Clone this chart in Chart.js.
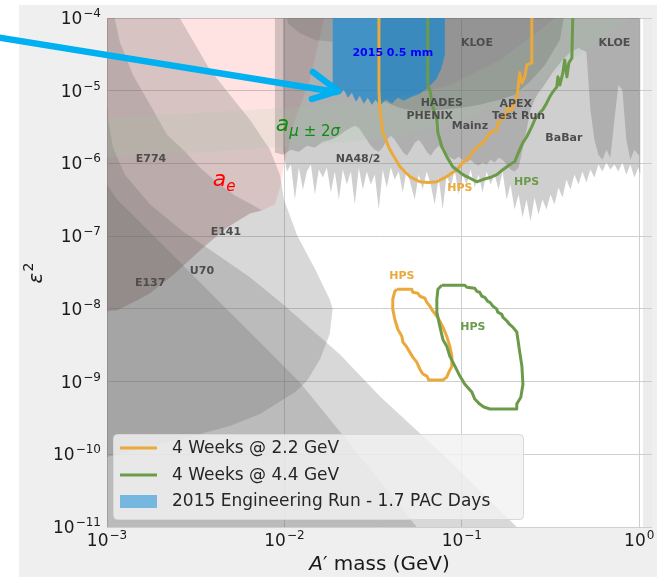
<!DOCTYPE html>
<html><head><meta charset="utf-8">
<script src="https://cdn.jsdelivr.net/npm/chart.js@4/dist/chart.umd.min.js"></script>
<style>html,body{margin:0;padding:0;background:#fff}canvas{display:block}</style>
</head><body>
<canvas id="c" width="657" height="577"></canvas>
<script>
// Dark photon parameter space: A' mass (GeV) vs epsilon^2.
const X_TICKS = [1e-3, 1e-2, 1e-1, 1];
const X_TICK_EXP = ['\u22123', '\u22122', '\u22121', '0'];
const Y_TICKS = [1e-4, 1e-5, 1e-6, 1e-7, 1e-8, 1e-9, 1e-10, 1e-11];
const Y_TICK_EXP = ['\u22124', '\u22125', '\u22126', '\u22127', '\u22128', '\u22129', '\u221210', '\u221211'];

// excluded regions, [mass, eps2] polygon vertices
const A_E = [[1e-3,2e-4],[1.8e-2,2e-4],[1.39e-2,1.41e-5],[1.15e-2,3.99e-6],[1.05e-2,1.55e-6],[9.94e-3,9.6e-7],[9.55e-3,5.1e-7],[8.84e-3,2.72e-7],[7.47e-3,2.25e-7],[6.39e-3,2.05e-7],[4.68e-3,1.28e-7],[3.34e-3,6.37e-8],[2.42e-3,3.08e-8],[1.75e-3,1.64e-8],[1.44e-3,1.27e-8],[1.14e-3,9.57e-9],[1e-3,9.27e-9]];
const A_MU = [[1e-3,4.25e-6],[3.34e-3,4.97e-6],[9.81e-3,5.8e-6],[2.34e-2,6.8e-6],[4.48e-2,8.25e-6],[8.55e-2,1.2e-5],[0.164,2.65e-5],[0.275,6.8e-5],[0.334,1e-4],[0.883,1e-4],[0.599,5.0e-5],[0.313,1.65e-5],[0.164,6.4e-6],[8.55e-2,3.41e-6],[4.48e-2,2.4e-6],[2.34e-2,1.99e-6],[9.81e-3,1.7e-6],[3.34e-3,1.41e-6],[1e-3,1.2e-6]];
const E137 = [[1e-3,6.4e-6],[1.013e-3,4.25e-6],[1.08e-3,1.65e-6],[1.26e-3,7.0e-7],[1.75e-3,2.72e-7],[2.68e-3,1.16e-7],[4.17e-3,5.6e-8],[6.39e-3,2.71e-8],[9.81e-3,1.16e-8],[1.52e-2,4.5e-9],[2.05e-2,2.38e-9],[3.45e-2,6.3e-10],[8.55e-2,8.1e-11],[0.204,1e-11],[0.25,5e-12],[1e-3,5e-12]];
const U70 = [[1e-3,5.1e-7],[1.14e-3,3.19e-7],[2.18e-3,6.6e-8],[4.17e-3,1.35e-8],[7.96e-3,2.79e-9],[1.22e-2,9.8e-10],[2.34e-2,1.39e-10],[5.57e-2,1e-11],[6.0e-2,5e-12],[1e-3,5e-12]];
const E141 = [[1e-3,2e-4],[2.18e-3,2e-4],[3.8e-3,1.94e-5],[6.39e-3,3.99e-6],[8.28e-3,1.55e-6],[9.43e-3,7.0e-7],[9.94e-3,3.19e-7],[1.18e-2,1.02e-7],[1.49e-2,3.5e-8],[1.8e-2,1.35e-8],[1.87e-2,1.0e-8],[1.8e-2,4.5e-9],[1.59e-2,2.04e-9],[1.34e-2,1.02e-9],[1.15e-2,7.2e-10],[7.28e-3,3.58e-10],[4.93e-3,2.45e-10],[3.34e-3,1.9e-10],[1.99e-3,1.39e-10],[1e-3,9.2e-11]];
const E774 = [[1e-3,2e-4],[1.04e-3,2e-4],[1.18e-3,4.7e-5],[1.40e-3,1.65e-5],[1.75e-3,6.4e-6],[2.18e-3,2.48e-6],[2.68e-3,1.55e-6],[3.34e-3,8.76e-7],[4.17e-3,5.45e-7],[5.26e-3,3.61e-7],[6.39e-3,2.81e-7],[7.47e-3,2.25e-7],[6.39e-3,2.05e-7],[4.68e-3,1.28e-7],[3.34e-3,6.37e-8],[2.42e-3,3.08e-8],[1.75e-3,1.64e-8],[1.44e-3,1.27e-8],[1.14e-3,9.57e-9],[1e-3,9.27e-9]];
const NA48_EDGE = [[9.81e-3,1.55e-6],[1.033e-2,7.72e-7],[1.088e-2,9.63e-7],[1.146e-2,3.19e-7],[1.207e-2,8.76e-7],[1.271e-2,4.37e-7],[1.339e-2,7.72e-7],[1.41e-2,9.63e-7],[1.485e-2,3.73e-7],[1.564e-2,8.22e-7],[1.647e-2,6.39e-7],[1.735e-2,8.76e-7],[1.827e-2,3.98e-7],[1.924e-2,7.72e-7],[2.027e-2,3.19e-7],[2.135e-2,8.22e-7],[2.248e-2,5.12e-7],[2.368e-2,7.72e-7],[2.494e-2,2.72e-7],[2.626e-2,8.76e-7],[2.766e-2,4.37e-7],[2.913e-2,7.72e-7],[3.068e-2,5.12e-7],[3.231e-2,7.02e-7],[3.403e-2,2.32e-7],[3.584e-2,8.22e-7],[3.775e-2,4.66e-7],[3.976e-2,8.76e-7],[4.187e-2,5.99e-7],[4.41e-2,7.72e-7],[4.645e-2,3.98e-7],[4.892e-2,8.22e-7],[5.152e-2,5.12e-7],[5.426e-2,3.19e-7],[5.715e-2,7.02e-7],[6.019e-2,4.37e-7],[6.339e-2,7.72e-7],[6.676e-2,5.12e-7],[7.031e-2,2.72e-7],[7.405e-2,6.39e-7],[7.799e-2,2.32e-7],[8.214e-2,7.02e-7],[8.651e-2,4.66e-7],[9.111e-2,8.22e-7],[9.596e-2,3.73e-7],[0.1011,7.02e-7],[0.1064,5.12e-7],[0.1121,8.22e-7],[0.1181,4.66e-7],[0.1243,7.02e-7],[0.1309,3.98e-7],[0.1379,7.72e-7],[0.1452,5.12e-7],[0.153,7.02e-7],[0.1611,4.37e-7],[0.1697,7.72e-7],[0.1787,3.19e-7],[0.1882,5.12e-7],[0.1982,2.32e-7],[0.2088,3.73e-7],[0.2199,1.8e-7],[0.2316,3.19e-7],[0.2439,1.59e-7],[0.2569,3.4e-7],[0.2705,1.98e-7],[0.2849,3.19e-7],[0.3001,2.32e-7],[0.316,3.73e-7],[0.3328,2.72e-7],[0.3505,4.66e-7],[0.3692,3.4e-7],[0.3888,5.99e-7],[0.4095,4.37e-7],[0.4313,7.02e-7],[0.4542,5.12e-7],[0.4784,7.72e-7],[0.5038,5.45e-7],[0.5306,8.22e-7],[0.5589,6.39e-7],[0.5886,9.63e-7],[0.6199,7.72e-7],[0.6529,1.026e-6],[0.6876,8.22e-7],[0.7242,9.63e-7],[0.7627,7.72e-7],[0.8033,1.026e-6],[0.846,7.02e-7],[0.891,9.63e-7],[0.9384,6.39e-7],[0.9883,8.76e-7],[1.015,7.02e-7],[1.015,2e-4],[9.81e-3,2e-4]];
const MID_EDGE = [[8.84e-3,1.41e-6],[9.81e-3,1.32e-6],[1.088e-2,1.546e-6],[1.207e-2,1.45e-6],[1.339e-2,1.75e-6],[1.485e-2,1.65e-6],[1.647e-2,1.99e-6],[1.827e-2,2.12e-6],[2.027e-2,2.4e-6],[2.248e-2,2.91e-6],[2.494e-2,3.3e-6],[2.626e-2,3.1e-6],[2.766e-2,2.56e-6],[2.913e-2,2.12e-6],[3.068e-2,1.75e-6],[3.231e-2,1.546e-6],[3.403e-2,1.45e-6],[3.584e-2,1.65e-6],[3.775e-2,2.12e-6],[3.976e-2,2.4e-6],[4.187e-2,2.12e-6],[4.41e-2,1.75e-6],[4.645e-2,1.45e-6],[4.892e-2,1.28e-6],[5.152e-2,1.546e-6],[5.426e-2,1.93e-6],[5.715e-2,2.12e-6],[6.019e-2,1.81e-6],[6.339e-2,1.45e-6],[6.676e-2,1.28e-6],[7.031e-2,1.546e-6],[7.405e-2,1.75e-6],[7.799e-2,1.546e-6],[8.214e-2,1.32e-6],[8.651e-2,1.2e-6],[9.111e-2,1.127e-6],[9.596e-2,1.24e-6],[0.1011,1.127e-6],[0.1064,1.026e-6],[0.1121,1.127e-6],[0.1181,9.93e-7],[0.1243,9.33e-7],[0.1309,1.026e-6],[0.1379,9.63e-7],[0.1452,1.127e-6],[0.153,1.026e-6],[0.1611,1.2e-6],[0.1697,1.127e-6],[0.1787,9.63e-7],[0.1882,8.22e-7],[0.1982,7.72e-7],[0.2088,8.76e-7],[0.2199,1.546e-6],[0.2316,2.91e-6],[0.2439,5.47e-6],[0.2569,7.5e-6],[0.2705,9.35e-6],[0.2849,1.1e-5],[0.3001,1.33e-5],[0.316,1.6e-5],[0.3328,1.94e-5],[0.3505,2.26e-5],[0.3692,2.65e-5],[0.3888,3.01e-5],[0.4095,3.42e-5],[0.4313,3.64e-5],[0.4542,3.87e-5],[0.4784,3.64e-5],[0.5038,3.42e-5],[0.5306,5.47e-6],[0.5589,2.12e-6],[0.5886,1.32e-6],[0.6199,1.127e-6],[0.6529,1.546e-6],[0.6876,1.2e-6],[0.7242,3.99e-6],[0.7627,1.2e-5],[0.8033,1.03e-5],[0.846,2.12e-6],[0.891,1.127e-6],[0.9384,1.546e-6],[0.9883,1.32e-6],[1.0,1.32e-6],[1.0,2e-4],[8.84e-3,2e-4]];
const KLOE = [[3.45e-2,2e-4],[3.45e-2,7.5e-6],[4.48e-2,5.8e-6],[5.8e-2,5.14e-6],[7.51e-2,5.47e-6],[9.75e-2,5.8e-6],[0.126,6.4e-6],[0.164,7.5e-6],[0.199,8.8e-6],[0.242,1.33e-5],[0.294,2.26e-5],[0.357,5.0e-5],[0.395,2e-4]];
const TOP_CAP = [[9.81e-3,2e-4],[1.87e-2,2e-4],[1.87e-2,4.7e-5],[1.49e-2,5.0e-5],[1.22e-2,6.22e-5],[1.05e-2,8.27e-5]];
const HIGH_MASS = [[1.05,2e-4],[1.3,2e-4],[1.3,5e-12],[1.05,5e-12]];
const RUN_2015 = [[1.87e-2,2e-4],[8.02e-2,2e-4],[8.02e-2,3.1e-5],[7.62e-2,1.94e-5],[7.14e-2,1.41e-5],[6.43e-2,1.1e-5],[5.8e-2,9.06e-6],[5.22e-2,8.25e-6],[4.71e-2,7.26e-6],[4.36e-2,8.0e-6],[4.03e-2,6.61e-6],[3.73e-2,7.5e-6],[3.45e-2,6.21e-6],[3.27e-2,7.5e-6],[3.11e-2,6.4e-6],[2.95e-2,8.0e-6],[2.8e-2,6.61e-6],[2.66e-2,8.51e-6],[2.53e-2,7.05e-6],[2.4e-2,9.35e-6],[2.28e-2,8.0e-6],[2.16e-2,1.03e-5],[2.05e-2,8.8e-6],[1.95e-2,1.17e-5],[1.87e-2,1.1e-5]];

// projected reach contours
const HPS22_UP = [[3.41e-2,1e-4],[3.41e-2,1.03e-5],[3.45e-2,5.47e-6],[3.59e-2,2.64e-6],[3.93e-2,1.55e-6],[4.48e-2,9.0e-7],[5.09e-2,6.6e-7],[5.8e-2,5.6e-7],[6.43e-2,5.45e-7],[7.23e-2,5.6e-7],[8.22e-2,6.6e-7],[9.37e-2,8.2e-7],[0.1014,1.03e-6],[0.111,1.24e-6],[0.1153,1.45e-6],[0.1215,1.65e-6],[0.1314,1.93e-6],[0.1383,2.26e-6],[0.144,2.64e-6],[0.1575,2.91e-6],[0.1595,3.63e-6],[0.168,3.99e-6],[0.1746,4.38e-6],[0.1817,5.8e-6],[0.1914,5.47e-6],[0.1937,6.0e-6],[0.204,8.25e-6],[0.207,1.03e-5],[0.212,1.76e-5],[0.218,1.28e-5],[0.2264,1.55e-5],[0.2323,2.26e-5],[0.248,2.41e-5],[0.248,1e-4]];
const HPS44_UP = [[6.43e-2,1e-4],[6.43e-2,1.13e-5],[6.6e-2,1.03e-5],[6.87e-2,6.0e-6],[7.23e-2,3.99e-6],[7.33e-2,2.64e-6],[7.71e-2,1.7e-6],[8.22e-2,1.24e-6],[8.89e-2,9.0e-7],[0.1014,7.0e-7],[0.1215,5.6e-7],[0.1314,6.0e-7],[0.144,6.4e-7],[0.1575,7.0e-7],[0.1702,8.2e-7],[0.186,9.6e-7],[0.199,1.06e-6],[0.204,1.24e-6],[0.212,1.55e-6],[0.221,1.93e-6],[0.2323,2.33e-6],[0.248,3.2e-6],[0.2576,3.99e-6],[0.275,4.97e-6],[0.2858,5.47e-6],[0.301,6.8e-6],[0.313,8.25e-6],[0.326,9.66e-6],[0.343,1.13e-5],[0.348,1.55e-5],[0.357,1.2e-5],[0.371,1.76e-5],[0.38,2.65e-5],[0.391,1.55e-5],[0.401,2.41e-5],[0.417,2.82e-5],[0.422,1e-4]];
const HPS22_LOW = [[4.31e-2,1.86e-8],[5.22e-2,1.86e-8],[5.29e-2,1.69e-8],[5.65e-2,1.64e-8],[5.8e-2,1.49e-8],[6.19e-2,1.4e-8],[6.35e-2,1.23e-8],[6.6e-2,1.09e-8],[6.87e-2,9.3e-9],[7.23e-2,7.9e-9],[7.51e-2,6.8e-9],[7.82e-2,5.6e-9],[8.22e-2,4.2e-9],[8.55e-2,3.07e-9],[8.79e-2,2.24e-9],[8.79e-2,1.63e-9],[8.45e-2,1.35e-9],[8.22e-2,1.15e-9],[7.82e-2,1.05e-9],[6.52e-2,1.05e-9],[6.35e-2,1.19e-9],[6.03e-2,1.27e-9],[5.8e-2,1.48e-9],[5.57e-2,1.85e-9],[5.29e-2,2.17e-9],[5.09e-2,2.54e-9],[4.9e-2,2.97e-9],[4.65e-2,3.5e-9],[4.59e-2,4.2e-9],[4.36e-2,5.2e-9],[4.19e-2,7.2e-9],[4.08e-2,9.9e-9],[4.08e-2,1.35e-8],[4.19e-2,1.74e-8],[4.31e-2,1.86e-8]];
const HPS44_LOW = [[7.71e-2,2.11e-8],[0.104,2.11e-8],[0.1067,1.98e-8],[0.1183,1.92e-8],[0.1215,1.74e-8],[0.126,1.69e-8],[0.1297,1.49e-8],[0.1348,1.44e-8],[0.14,1.27e-8],[0.144,1.23e-8],[0.1496,1.09e-8],[0.1575,9.9e-9],[0.1595,9.0e-9],[0.168,8.4e-9],[0.1702,7.7e-9],[0.1795,6.8e-9],[0.186,6.1e-9],[0.1937,5.6e-9],[0.204,4.8e-9],[0.207,3.8e-9],[0.212,2.54e-9],[0.218,1.63e-9],[0.221,9.2e-10],[0.215,6.1e-10],[0.204,4.9e-10],[0.204,4.2e-10],[0.144,4.2e-10],[0.133,4.47e-10],[0.126,4.9e-10],[0.1183,5.75e-10],[0.1138,7.2e-10],[0.104,9.2e-10],[9.75e-2,1.19e-9],[9.14e-2,1.63e-9],[8.55e-2,2.24e-9],[8.22e-2,3.07e-9],[7.82e-2,3.8e-9],[7.51e-2,5.8e-9],[7.23e-2,9.0e-9],[7.23e-2,1.35e-8],[7.33e-2,1.86e-8],[7.71e-2,2.11e-8]];

// experiment labels: [text, mass, eps2]
const LABELS = [['E774',1.77e-3,1.13e-6],['E141',4.68e-3,1.12e-7],['U70',3.43e-3,3.28e-8],['E137',1.75e-3,2.24e-8],['NA48/2',2.60e-2,1.13e-6],['HADES',7.71e-2,6.8e-6],['PHENIX',6.6e-2,4.53e-6],['Mainz',0.111,3.3e-6],['APEX',0.2014,6.61e-6],['Test Run',0.2088,4.53e-6],['BaBar',0.376,2.26e-6],['KLOE',0.1216,4.54e-5],['KLOE',0.7242,4.54e-5]];
const HPS_LABELS = [[9.75e-2,4.51e-7,'#EAA93A'],[0.2316,5.6e-7,'#6C9A4B'],[4.59e-2,2.8e-8,'#EAA93A'],[0.1153,5.6e-9,'#6C9A4B']];
const RUN_LABEL = ['2015 0.5 mm', 4.08e-2, 3.31e-5];
const AE_POS = [3.95e-3, 4.96e-7];
const AMU_POS = [8.95e-3, 2.82e-6];
const LEGEND_LABELS = ['4 Weeks @ 2.2 GeV', '4 Weeks @ 4.4 GeV', '2015 Engineering Run - 1.7 PAC Days'];

const ORANGE = '#EAA93A', GREEN = '#6C9A4B', BLUE = 'rgba(25,135,205,0.72)';
const GRAY = 'rgba(100,100,100,0.25)';
const pts = arr => arr.map(([x, y]) => ({x, y}));
const region = (arr, color) => ({data: pts(arr), showLine: true, fill: 'shape', backgroundColor: color, borderWidth: 0, pointRadius: 0, tension: 0});
const contour = (arr, color) => ({data: pts(arr), showLine: true, fill: false, borderColor: color, borderWidth: 3, pointRadius: 0, tension: 0, borderJoinStyle: 'round'});

const layers = [
  region(A_E, 'rgba(255,0,0,0.11)'),
  region(E137, GRAY),
  region(U70, GRAY),
  region(E141, GRAY),
  region(E774, GRAY),
  region(NA48_EDGE, 'rgba(130,130,130,0.38)'),
  region(MID_EDGE, 'rgba(80,80,80,0.25)'),
  region(KLOE, 'rgba(80,80,80,0.28)'),
  region(TOP_CAP, 'rgba(80,80,80,0.18)'),
  region(HIGH_MASS, 'rgba(200,200,200,0.35)'),
  region(A_MU, 'rgba(160,205,160,0.16)'),
  region(RUN_2015, BLUE),
  contour(HPS22_UP, ORANGE), contour(HPS44_UP, GREEN),
  contour(HPS22_LOW, ORANGE), contour(HPS44_LOW, GREEN)
];
layers.forEach((d, i) => { d.order = layers.length - i; });

const isDecade = v => v > 0 && Math.abs(Math.log10(v) - Math.round(Math.log10(v))) < 1e-6;

function sci(ctx, exp, x, y, align) {
  ctx.font = '17px "DejaVu Sans"';
  const wb = ctx.measureText('10').width;
  ctx.font = '12px "DejaVu Sans"';
  const we = ctx.measureText(exp).width;
  const total = wb + we + 1;
  const left = align === 'right' ? x - total : x - total / 2;
  ctx.textAlign = 'left'; ctx.textBaseline = 'alphabetic';
  ctx.font = '17px "DejaVu Sans"';
  ctx.fillText('10', left, y + 6);
  ctx.font = '12px "DejaVu Sans"';
  ctx.fillText(exp, left + wb + 1, y - 1);
}

const decor = {
  id: 'decor',
  beforeDraw(chart) {
    const c = chart.ctx, a = chart.chartArea;
    c.save();
    c.fillStyle = '#ffffff'; c.fillRect(0, 0, chart.width, chart.height);
    c.fillStyle = '#efefef'; c.fillRect(19, 5, chart.width - 19, chart.height - 5);
    c.fillStyle = '#ffffff'; c.fillRect(a.left, a.top, a.right - a.left, a.bottom - a.top);
    c.restore();
  },
  afterDatasetsDraw(chart) {
    const c = chart.ctx, xs = chart.scales.x, ys = chart.scales.y;
    c.save();
    c.textAlign = 'center'; c.textBaseline = 'middle';
    c.font = 'bold 11px "DejaVu Sans"';
    c.fillStyle = '#4d4d4d';
    LABELS.forEach(([t, m, e]) => c.fillText(t, xs.getPixelForValue(m), ys.getPixelForValue(e)));
    HPS_LABELS.forEach(([m, e, col]) => { c.fillStyle = col; c.fillText('HPS', xs.getPixelForValue(m), ys.getPixelForValue(e)); });
    c.fillStyle = '#0000ff';
    c.fillText(RUN_LABEL[0], xs.getPixelForValue(RUN_LABEL[1]), ys.getPixelForValue(RUN_LABEL[2]));
    // a_e
    c.textAlign = 'left'; c.textBaseline = 'alphabetic';
    let x0 = xs.getPixelForValue(AE_POS[0]), y0 = ys.getPixelForValue(AE_POS[1]);
    c.fillStyle = '#ff0000';
    c.font = 'italic 22px "DejaVu Sans"'; c.fillText('a', x0, y0);
    let w = c.measureText('a').width;
    c.font = 'italic 15px "DejaVu Sans"'; c.fillText('e', x0 + w, y0 + 5);
    // a_mu +- 2 sigma
    x0 = xs.getPixelForValue(AMU_POS[0]); y0 = ys.getPixelForValue(AMU_POS[1]);
    c.fillStyle = '#108a10';
    c.font = 'italic 22px "DejaVu Sans"'; c.fillText('a', x0, y0);
    w = c.measureText('a').width;
    c.font = 'italic 15px "DejaVu Sans"'; c.fillText('\u03bc', x0 + w, y0 + 5);
    const w2 = c.measureText('\u03bc').width;
    c.font = '15px "DejaVu Sans"'; c.fillText(' \u00b1 2', x0 + w + w2, y0 + 5);
    const w3 = c.measureText(' \u00b1 2').width;
    c.font = 'italic 15px "DejaVu Sans"'; c.fillText('\u03c3', x0 + w + w2 + w3, y0 + 5);
    c.restore();
  },
  afterDraw(chart) {
    const c = chart.ctx, xs = chart.scales.x, ys = chart.scales.y, a = chart.chartArea;
    c.save();
    c.fillStyle = '#1a1a1a';
    X_TICKS.forEach((v, i) => sci(c, X_TICK_EXP[i], xs.getPixelForValue(v), 540, 'center'));
    Y_TICKS.forEach((v, i) => sci(c, Y_TICK_EXP[i], 101, ys.getPixelForValue(v), 'right'));
    // axis titles
    c.fillStyle = '#1a1a1a'; c.textBaseline = 'alphabetic'; c.textAlign = 'left';
    c.font = 'italic 20px "DejaVu Sans"';
    const wA = c.measureText('A').width;
    c.font = '20px "DejaVu Sans"';
    const wP = c.measureText('\u2032').width, wR = c.measureText(' mass (GeV)').width;
    const sx = (a.left + a.right) / 2 - (wA + wP + wR) / 2;
    c.font = 'italic 20px "DejaVu Sans"'; c.fillText('A', sx, 570);
    c.font = '20px "DejaVu Sans"'; c.fillText('\u2032', sx + wA, 570); c.fillText(' mass (GeV)', sx + wA + wP, 570);
    c.save();
    c.translate(42, 274); c.rotate(-Math.PI / 2);
    c.font = 'italic 20px "DejaVu Sans"';
    const wE = c.measureText('\u03b5').width;
    c.fillText('\u03b5', -wE / 2 - 4, 0);
    c.font = '14px "DejaVu Sans"'; c.fillText('2', wE / 2 - 3, -9);
    c.restore();
    // legend
    c.fillStyle = 'rgba(242,242,242,0.82)'; c.strokeStyle = '#d8d8d8'; c.lineWidth = 1;
    c.beginPath(); c.roundRect(113.5, 434.5, 410, 85, 4); c.fill(); c.stroke();
    c.lineWidth = 3; c.lineCap = 'butt';
    c.strokeStyle = ORANGE; c.beginPath(); c.moveTo(120, 448); c.lineTo(157, 448); c.stroke();
    c.strokeStyle = GREEN; c.beginPath(); c.moveTo(120, 475); c.lineTo(157, 475); c.stroke();
    c.fillStyle = 'rgba(40,150,215,0.6)'; c.fillRect(120, 495, 37, 13);
    c.fillStyle = '#262626'; c.font = '17px "DejaVu Sans"'; c.textBaseline = 'middle';
    LEGEND_LABELS.forEach((t, i) => c.fillText(t, 172, 449 + i * 26.5));
    // arrow
    c.strokeStyle = '#00b0f0'; c.lineWidth = 6.5; c.lineCap = 'round'; c.lineJoin = 'round';
    c.beginPath(); c.moveTo(-5, 37); c.lineTo(336, 92); c.stroke();
    c.beginPath(); c.moveTo(313, 72); c.lineTo(338, 91); c.lineTo(312, 99); c.stroke();
    c.restore();
  }
};

new Chart(document.getElementById('c'), {
  type: 'scatter',
  data: {datasets: layers},
  options: {
    responsive: false, animation: false, devicePixelRatio: 1,
    layout: {padding: {left: 107, top: 18, right: 5, bottom: 50}},
    plugins: {legend: {display: false}, tooltip: {enabled: false}},
    scales: {
      x: {type: 'logarithmic', min: 1e-3, max: 1.18,
          ticks: {display: false}, border: {display: false},
          grid: {drawTicks: false, lineWidth: 1, color: c => isDecade(c.tick && c.tick.value) ? '#cfcfcf' : 'rgba(0,0,0,0)'}},
      y: {type: 'logarithmic', min: 1e-11, max: 1e-4,
          ticks: {display: false}, border: {display: false},
          grid: {drawTicks: false, lineWidth: 1, color: c => isDecade(c.tick && c.tick.value) ? '#cfcfcf' : 'rgba(0,0,0,0)'}}
    }
  },
  plugins: [decor]
});
</script>
</body></html>
